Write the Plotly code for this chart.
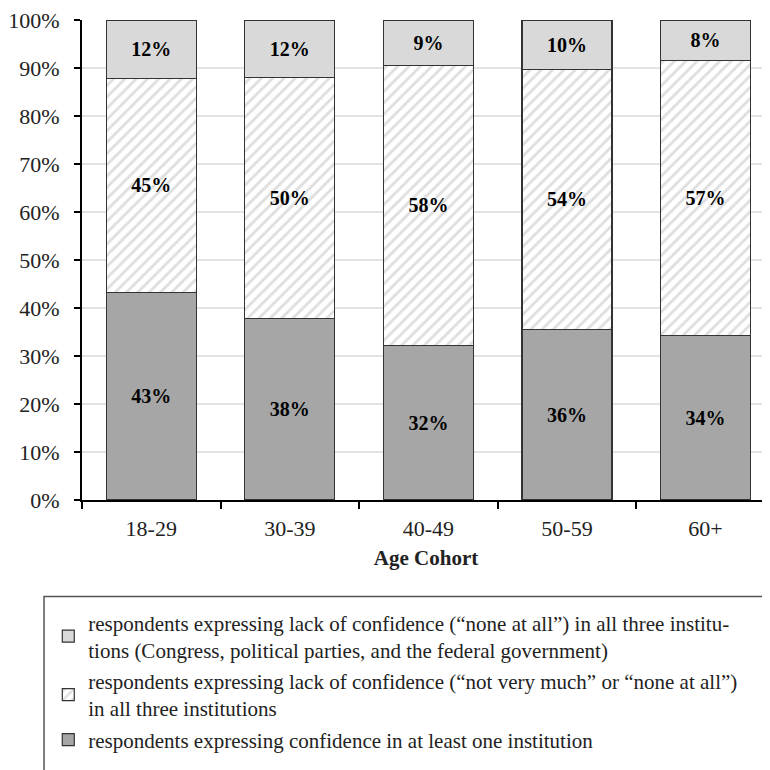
import plotly.graph_objects as go

categories = ["18-29", "30-39", "40-49", "50-59", "60+"]
confidence_one = [43.3, 37.8, 32.2, 35.6, 34.2]
lack_not_very_much = [44.5, 50.2, 58.4, 54.1, 57.4]
lack_none_at_all = [12.2, 12.0, 9.4, 10.3, 8.4]

legend_none = ("respondents expressing lack of confidence (\u201cnone at all\u201d) in all three institu-<br>"
               "tions (Congress, political parties, and the federal government)")
legend_not_very = ("respondents expressing lack of confidence (\u201cnot very much\u201d or \u201cnone at all\u201d)<br>"
                   "in all three institutions")
legend_conf = "respondents expressing confidence in at least one institution"

FONT = "Liberation Serif"
edge = dict(color="#333333", width=1.2)
label_font = dict(family=FONT, size=20, color="black")

fig = go.Figure()
fig.add_trace(go.Bar(
    x=categories, y=confidence_one, name=legend_conf, legendgroup="c", legendrank=3,
    marker=dict(color="#a6a6a6", line=edge),
    texttemplate="<b>%{y:.0f}%</b>", textposition="inside", insidetextanchor="middle",
    textangle=0, textfont=label_font, width=0.65, cliponaxis=False,
))
fig.add_trace(go.Bar(
    x=categories, y=lack_not_very_much, name=legend_not_very, legendgroup="b", legendrank=2,
    marker=dict(color="white", line=edge,
                pattern=dict(shape="/", fgcolor="#bdbdbd", bgcolor="white", size=8, solidity=0.35)),
    texttemplate="<b>%{y:.0f}%</b>", textposition="inside", insidetextanchor="middle",
    textangle=0, textfont=label_font, width=0.65, cliponaxis=False,
))
fig.add_trace(go.Bar(
    x=categories, y=lack_none_at_all, name=legend_none, legendgroup="a", legendrank=1,
    marker=dict(color="#d9d9d9", line=edge),
    texttemplate="<b>%{y:.0f}%</b>", textposition="inside", insidetextanchor="middle",
    textangle=0, textfont=label_font, width=0.65, cliponaxis=False,
))

fig.update_layout(
    width=770, height=770,
    margin=dict(l=74, r=8, t=12, b=278),
    barmode="stack",
    plot_bgcolor="white", paper_bgcolor="white",
    font=dict(family=FONT, size=22, color="#222222"),
    uniformtext=dict(mode="show", minsize=10),
    showlegend=True,
    legend=dict(
        x=-0.049, y=-0.213, xanchor="left", yanchor="top",
        traceorder="grouped", tracegroupgap=1,
        font=dict(family=FONT, size=21, color="#222222"),
        bgcolor="rgba(0,0,0,0)", borderwidth=0,
    ),
    shapes=[dict(type="rect", xref="paper", yref="paper",
                 x0=-0.0552, x1=1.1, y0=-0.2012, y1=-0.75,
                 line=dict(color="#555555", width=1.5), fillcolor="rgba(0,0,0,0)")],
)
fig.update_xaxes(
    type="category", range=[-0.5, 4.465], automargin=False,
    showline=True, linecolor="black", linewidth=2,
    ticks="outside", tickson="boundaries", ticklen=7, tickwidth=2, tickcolor="black",
    ticklabelstandoff=8,
    title=dict(text="<b>Age Cohort</b>", font=dict(family=FONT, size=21, color="#222222"), standoff=10),
    showgrid=False,
)
fig.update_yaxes(
    range=[0, 100], dtick=10, ticksuffix="%", automargin=False,
    ticklabeloverflow="allow",
    showline=True, linecolor="black", linewidth=2,
    ticks="outside", ticklen=6, tickwidth=2, tickcolor="black",
    ticklabelstandoff=10,
    showgrid=True, gridcolor="#e3e3e3", gridwidth=1.5,
    zeroline=False,
)

fig.write_html("out.html")
